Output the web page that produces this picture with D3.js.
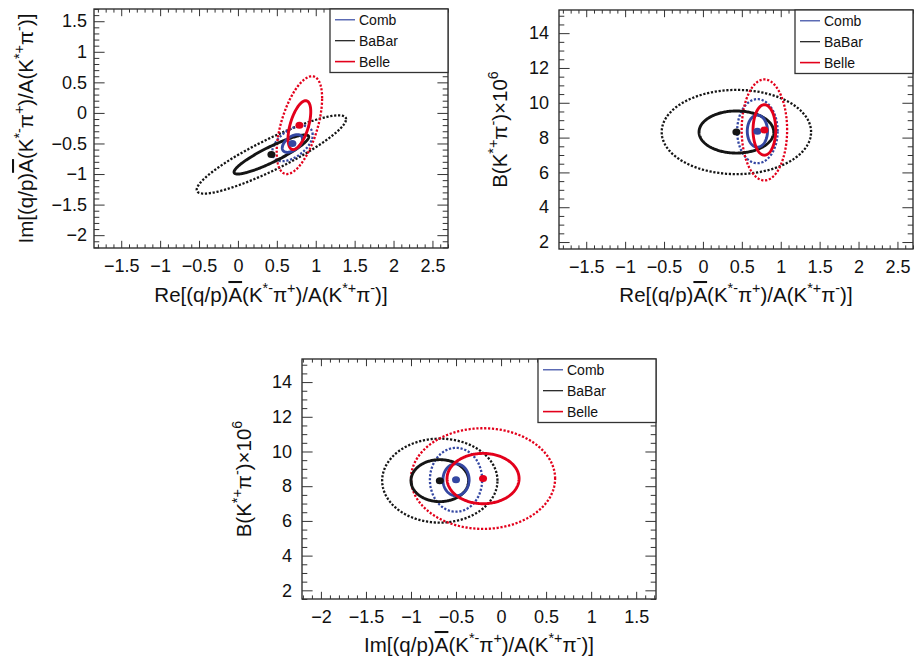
<!DOCTYPE html>
<html>
<head>
<meta charset="utf-8">
<script src="https://cdn.jsdelivr.net/npm/d3@7"></script>
<style>
  html, body { margin: 0; padding: 0; background: #fff; }
  svg { display: block; }
  text { font-family: "Liberation Sans", Arial, Helvetica, sans-serif; fill: #111; }
</style>
</head>
<body>
<svg id="chart" width="920" height="659"></svg>
<script>
// Fit results for each experiment: means, uncertainties and correlations
const experiments = ["Comb", "BaBar", "Belle"];
const expColors   = ["#3447a2", "#151515", "#e3001b"];
const centerRe = [0.70, 0.43, 0.79];
const centerIm = [-0.50, -0.68, -0.20];
const centerB  = [8.37, 8.32, 8.44];
const sigmaRe  = [0.13, 0.48, 0.146];
const sigmaIm  = [0.145, 0.32, 0.40];
const sigmaB   = [0.92, 1.21, 1.45];
const rhoReIm  = [0.50, 0.90, 0.55];
const rhoReB   = [0.0, 0.0, 0.0];
const rhoImB   = [0.0, 0.0, 0.0];
const contourLevels = [2, 1];          // n-sigma contours (dotted, solid)

// Axis tick values
const ticksRe = [-1.5, -1, -0.5, 0, 0.5, 1, 1.5, 2, 2.5];
const ticksImY = [-2, -1.5, -1, -0.5, 0, 0.5, 1, 1.5];
const ticksImX = [-2, -1.5, -1, -0.5, 0, 0.5, 1, 1.5];
const ticksB = [2, 4, 6, 8, 10, 12, 14];

const centers = { Re: centerRe, Im: centerIm, B: centerB };
const sigmas  = { Re: sigmaRe, Im: sigmaIm, B: sigmaB };
function rho(a, b, i) {
  const k = [a, b].sort().join("");
  if (k === "ImRe") return rhoReIm[i];
  if (k === "BRe") return rhoReB[i];
  return rhoImB[i];
}

// Axis titles as rich-text segments: [text, mode]
function ampTitle(part) {
  return [[part + "[(q/p)", ""], ["A", "bar"], ["(K", ""], ["*-", "sup"], ["\u03c0", ""], ["+", "sup"],
          [")/A(K", ""], ["*+", "sup"], ["\u03c0", ""], ["-", "sup"], [")]", ""]];
}
const titleB = [["B(K", ""], ["*+", "sup"], ["\u03c0", ""], ["-", "sup"], [")\u00d710", ""], ["6", "sup"]];

const panels = [
  { xv: "Re", yv: "Im", left: 94, right: 448, top: 9, bottom: 248,
    xDomain: [-1.85, 2.70], yDomain: [-2.21, 1.70], xTicks: ticksRe, yTicks: ticksImY,
    xMinor: 0.1, yMinor: 0.1, xTitle: ampTitle("Re"), yTitle: ampTitle("Im"),
    xTitleY: 302, yTitleX: 33, yPad: 7 },
  { xv: "Re", yv: "B", left: 559, right: 913, top: 10, bottom: 249,
    xDomain: [-1.85, 2.70], yDomain: [1.6, 15.33], xTicks: ticksRe, yTicks: ticksB,
    xMinor: 0.1, yMinor: 0.5, xTitle: ampTitle("Re"), yTitle: titleB,
    xTitleY: 302, yTitleX: 507, yPad: 10 },
  { xv: "Im", yv: "B", left: 302, right: 656, top: 359, bottom: 599,
    xDomain: [-2.21, 1.72], yDomain: [1.5, 15.33], xTicks: ticksImX, yTicks: ticksB,
    xMinor: 0.1, yMinor: 0.5, xTitle: ampTitle("Im"), yTitle: titleB,
    xTitleY: 652, yTitleX: 250.5, yPad: 10 }
];

const svg = d3.select("#chart");

function richText(t, parts, fs) {
  let raised = false;
  const shift = fs * 0.42;
  parts.forEach(([s, mode]) => {
    const ts = t.append("tspan").text(s);
    if (mode === "sup") {
      ts.attr("font-size", fs * 0.7);
      if (!raised) ts.attr("dy", -shift);
      raised = true;
    } else {
      if (raised) ts.attr("dy", shift);
      raised = false;
      if (mode === "bar") ts.style("text-decoration", "overline");
    }
  });
}

const fmt = v => (v < 0 ? "\u2212" : "") + Math.abs(v);

function minorValues(domain, step, majors) {
  const out = [];
  const start = Math.ceil(domain[0] / step - 1e-9);
  const end = Math.floor(domain[1] / step + 1e-9);
  for (let k = start; k <= end; k++) {
    const v = +(k * step).toFixed(6);
    if (!majors.some(m => Math.abs(m - v) < 1e-9)) out.push(v);
  }
  return out;
}

panels.forEach((p, pi) => {
  const x = d3.scaleLinear().domain(p.xDomain).range([p.left, p.right]);
  const y = d3.scaleLinear().domain(p.yDomain).range([p.bottom, p.top]);
  const g = svg.append("g");

  const clipId = "clip" + pi;
  g.append("clipPath").attr("id", clipId).append("rect")
    .attr("x", p.left).attr("y", p.top)
    .attr("width", p.right - p.left).attr("height", p.bottom - p.top);

  // Contour ellipses
  const line = d3.line().x(d => x(d[0])).y(d => y(d[1])).curve(d3.curveLinearClosed);
  const drawOrder = [1, 0, 2];
  const plot = g.append("g").attr("clip-path", `url(#${clipId})`);
  contourLevels.forEach(level => {
    drawOrder.forEach(i => {
      const cx = centers[p.xv][i], cy = centers[p.yv][i];
      const sx = sigmas[p.xv][i], sy = sigmas[p.yv][i];
      const r = rho(p.xv, p.yv, i);
      const pts = d3.range(0, 360, 1.5).map(deg => {
        const t = deg * Math.PI / 180;
        return [cx + level * sx * Math.cos(t),
                cy + level * sy * (r * Math.cos(t) + Math.sqrt(1 - r * r) * Math.sin(t))];
      });
      plot.append("path")
        .attr("d", line(pts))
        .attr("fill", "none")
        .attr("stroke", expColors[i])
        .attr("stroke-width", level === 1 ? 2.9 : 2.3)
        .attr("stroke-dasharray", level === 1 ? null : "2.2,1.7");
    });
  });
  // Central values
  drawOrder.forEach(i => {
    plot.append("ellipse")
      .attr("cx", x(centers[p.xv][i])).attr("cy", y(centers[p.yv][i]))
      .attr("rx", 4).attr("ry", 3.5)
      .attr("fill", expColors[i]);
  });

  // Frame
  g.append("rect")
    .attr("x", p.left).attr("y", p.top)
    .attr("width", p.right - p.left).attr("height", p.bottom - p.top)
    .attr("fill", "none").attr("stroke", "#222").attr("stroke-width", 1.3);

  const xLen = 7.2, yLen = 10.6;
  const xMin = minorValues(p.xDomain, p.xMinor, p.xTicks);
  const yMin = minorValues(p.yDomain, p.yMinor, p.yTicks);

  function styleAxis(a) {
    a.select(".domain").remove();
    a.selectAll("line").attr("stroke", "#333");
    a.selectAll("text").attr("font-size", 18).attr("fill", "#111")
      .attr("font-family", "'Liberation Sans', Arial, sans-serif");
  }

  // bottom
  g.append("g").attr("transform", `translate(0,${p.bottom})`)
    .call(d3.axisBottom(x).tickValues(p.xTicks).tickSize(-xLen).tickPadding(11.5).tickFormat(fmt))
    .call(styleAxis);
  g.append("g").attr("transform", `translate(0,${p.bottom})`)
    .call(d3.axisBottom(x).tickValues(xMin).tickSize(-xLen / 2).tickFormat(""))
    .call(styleAxis);
  // top mirror
  g.append("g").attr("transform", `translate(0,${p.top})`)
    .call(d3.axisTop(x).tickValues(p.xTicks).tickSize(-xLen).tickFormat(""))
    .call(styleAxis);
  g.append("g").attr("transform", `translate(0,${p.top})`)
    .call(d3.axisTop(x).tickValues(xMin).tickSize(-xLen / 2).tickFormat(""))
    .call(styleAxis);
  // left
  g.append("g").attr("transform", `translate(${p.left},0)`)
    .call(d3.axisLeft(y).tickValues(p.yTicks).tickSize(-yLen).tickPadding(p.yPad).tickFormat(fmt))
    .call(styleAxis);
  g.append("g").attr("transform", `translate(${p.left},0)`)
    .call(d3.axisLeft(y).tickValues(yMin).tickSize(-yLen / 2).tickFormat(""))
    .call(styleAxis);
  // right mirror
  g.append("g").attr("transform", `translate(${p.right},0)`)
    .call(d3.axisRight(y).tickValues(p.yTicks).tickSize(-yLen).tickFormat(""))
    .call(styleAxis);
  g.append("g").attr("transform", `translate(${p.right},0)`)
    .call(d3.axisRight(y).tickValues(yMin).tickSize(-yLen / 2).tickFormat(""))
    .call(styleAxis);

  // Axis titles
  const xt = g.append("text")
    .attr("x", (p.left + p.right) / 2).attr("y", p.xTitleY)
    .attr("text-anchor", "middle").attr("font-size", 20.5);
  richText(xt, p.xTitle, 20.5);
  const yt = g.append("text")
    .attr("transform", `translate(${p.yTitleX},${(p.top + p.bottom) / 2}) rotate(-90)`)
    .attr("text-anchor", "middle").attr("font-size", 20.5);
  richText(yt, p.yTitle, 20.5);

  // Legend
  const lw = 118, lh = 63.5;
  const lx = p.right - lw, ly = p.top;
  const leg = g.append("g");
  leg.append("rect").attr("x", lx).attr("y", ly).attr("width", lw).attr("height", lh)
    .attr("fill", "#fff").attr("stroke", "#333").attr("stroke-width", 1.3);
  experiments.forEach((name, i) => {
    const yy = ly + 10.8 + i * 20.9;
    leg.append("line").attr("x1", lx + 5).attr("x2", lx + 25).attr("y1", yy).attr("y2", yy)
      .attr("stroke", expColors[i]).attr("stroke-width", i === 2 ? 1.6 : 1.2);
    leg.append("text").attr("x", lx + 29).attr("y", yy + 5)
      .attr("font-size", 14).text(name);
  });
});
</script>
</body>
</html>
